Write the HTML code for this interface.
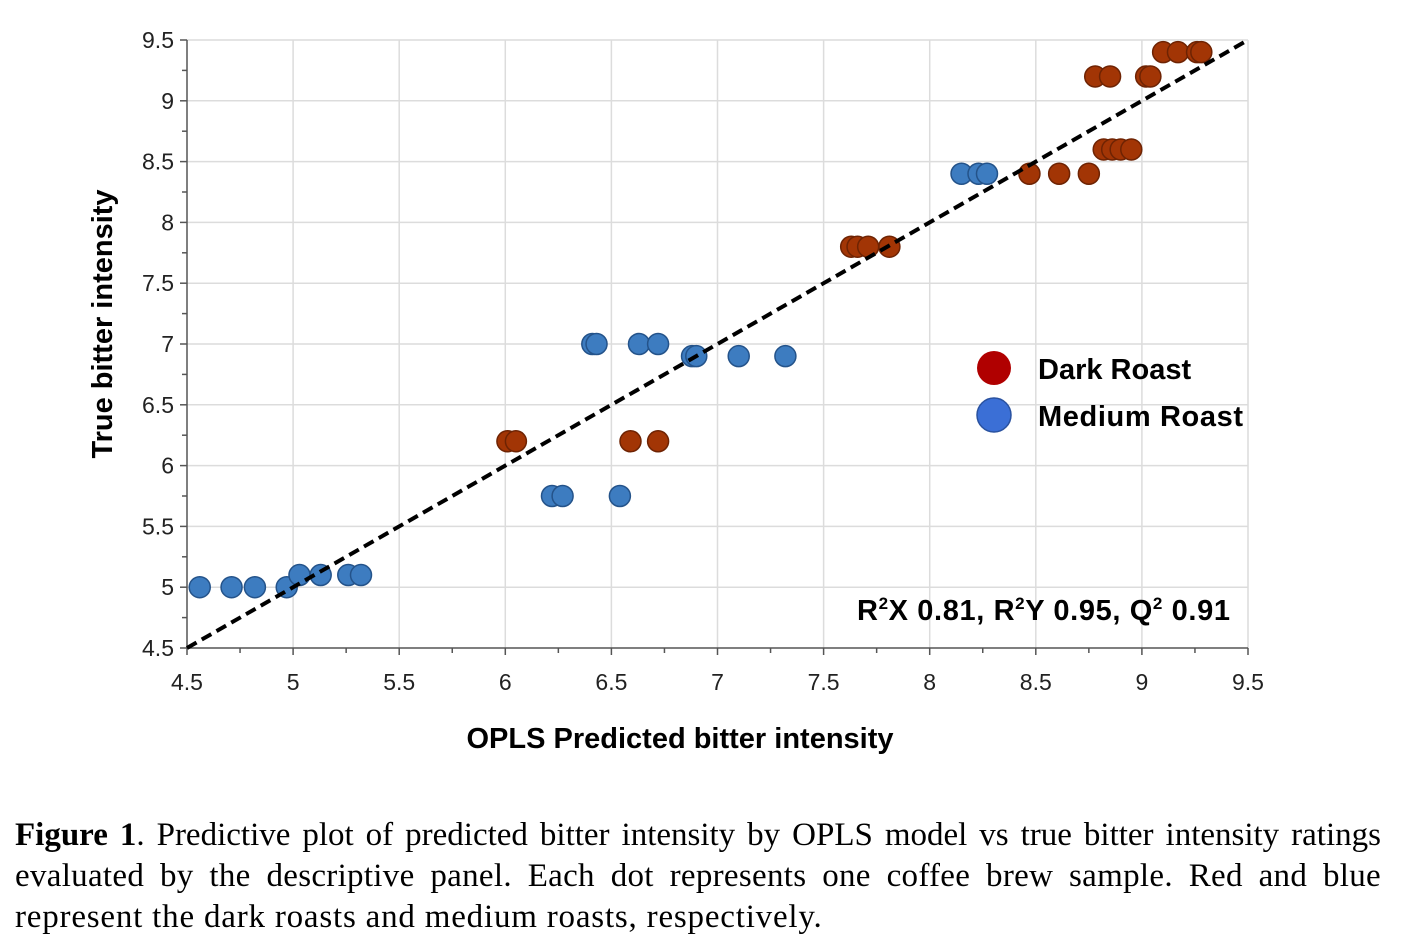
<!DOCTYPE html>
<html><head><meta charset="utf-8"><style>
body{margin:0;background:#fff;width:1401px;height:952px;overflow:hidden}
svg{position:absolute;left:0;top:0}
.cap{position:absolute;left:15px;top:815px;width:1366px;font-family:"Liberation Serif",serif;font-size:33px;letter-spacing:0.8px;line-height:41px;color:#000}
.cap .ln{display:block;text-align:justify;text-align-last:justify;white-space:nowrap}
.cap .last{text-align-last:left}
</style></head><body>
<svg id="chart" width="1401" height="800" font-family="Liberation Sans, sans-serif"></svg>
<div class="cap"><span class="ln" style="letter-spacing:0"><b>Figure 1</b>. Predictive plot of predicted bitter intensity by OPLS model vs true bitter intensity ratings</span><span class="ln" style="letter-spacing:0.3px">evaluated by the descriptive panel. Each dot represents one coffee brew sample. Red and blue</span><span class="ln last">represent the dark roasts and medium roasts, respectively.</span></div>
<script>
const xTicks=[4.5,5,5.5,6,6.5,7,7.5,8,8.5,9,9.5];
const yTicks=[4.5,5,5.5,6,6.5,7,7.5,8,8.5,9,9.5];
const mediumX=[4.56,4.71,4.82,4.97,5.03,5.13,5.26,5.32,6.22,6.27,6.54,6.41,6.43,6.63,6.72,6.88,6.90,7.10,7.32,8.15,8.23,8.27];
const mediumY=[5.0,5.0,5.0,5.0,5.1,5.1,5.1,5.1,5.75,5.75,5.75,7.0,7.0,7.0,7.0,6.9,6.9,6.9,6.9,8.4,8.4,8.4];
const darkX=[6.01,6.05,6.59,6.72,7.63,7.66,7.71,7.81,8.47,8.61,8.75,8.82,8.86,8.90,8.95,8.78,8.85,9.02,9.04,9.10,9.17,9.26,9.28];
const darkY=[6.2,6.2,6.2,6.2,7.8,7.8,7.8,7.8,8.4,8.4,8.4,8.6,8.6,8.6,8.6,9.2,9.2,9.2,9.2,9.4,9.4,9.4,9.4];
const fitLine=[4.5,9.5];
const NS='http://www.w3.org/2000/svg';
const svg=document.getElementById('chart');
const X0=187,X1=1248,Y0=648,Y1=40;
const sx=v=>X0+(v-4.5)/5*(X1-X0);
const sy=v=>Y0-(v-4.5)/5*(Y0-Y1);
function mk(tag,attrs,parent){const e=document.createElementNS(NS,tag);for(const k in attrs)e.setAttribute(k,attrs[k]);(parent||svg).appendChild(e);return e;}
const grid=mk('g',{});


xTicks.forEach(t=>{if(t>4.5)mk('line',{x1:sx(t),x2:sx(t),y1:Y1,y2:Y0,stroke:'#dcdcdc','stroke-width':1.5},grid);});
yTicks.forEach(t=>{if(t>4.5)mk('line',{x1:X0,x2:X1,y1:sy(t),y2:sy(t),stroke:'#dcdcdc','stroke-width':1.5},grid);});
const ax=mk('g',{stroke:'#555','stroke-width':1.5});


mk('line',{x1:X0,x2:X0,y1:Y1,y2:Y0},ax);
mk('line',{x1:X0,x2:X1,y1:Y0,y2:Y0},ax);
for(let v=4.5;v<=9.5001;v+=0.25){const major=Math.abs(v*2-Math.round(v*2))<1e-6;const L=major?7:5;
 mk('line',{x1:X0-L,x2:X0,y1:sy(v),y2:sy(v)},ax);
 mk('line',{x1:sx(v),x2:sx(v),y1:Y0,y2:Y0+L},ax);}
xTicks.forEach(t=>{const e=mk('text',{x:sx(t),y:690,'text-anchor':'middle','font-size':23,fill:'#222'});e.textContent=String(t);
 
 });
yTicks.forEach(t=>{const e=mk('text',{x:174,y:sy(t)+8,'text-anchor':'end','font-size':23,fill:'#222'});e.textContent=String(t);
 
 });
const med=mk('g',{});


mediumX.forEach((x,i)=>{const c=mk('circle',{cx:sx(x),cy:sy(mediumY[i]),r:10.5,fill:'#3d7cc0',stroke:'#24538a','stroke-width':1.5},med);
 
 });
const dk=mk('g',{});


darkX.forEach((x,i)=>{const c=mk('circle',{cx:sx(x),cy:sy(darkY[i]),r:10.5,fill:'#a23505',stroke:'#6e2303','stroke-width':1.5},dk);
 
 });
const fl=mk('line',{x1:sx(fitLine[0]),y1:sy(fitLine[0]),x2:sx(fitLine[1]),y2:sy(fitLine[1]),stroke:'#000','stroke-width':4,'stroke-dasharray':'11 6'});


</script>
<svg width="1401" height="800" style="pointer-events:none" font-family="Liberation Sans, sans-serif">
<g>
<circle cx="994" cy="368" r="17" fill="#b00000"/>
<circle cx="994" cy="415" r="17" fill="#3b6fd6" stroke="#2a52a0" stroke-width="1.5"/>
<text x="1038" y="379" font-size="29" font-weight="bold" fill="#000">Dark Roast</text>
<text x="1038" y="426" font-size="29" font-weight="bold" fill="#000" textLength="205">Medium Roast</text>
</g>
<text x="857" y="620" font-size="29" font-weight="bold" fill="#000" textLength="373">R<tspan font-size="17" dy="-11">2</tspan><tspan dy="11">X 0.81, R</tspan><tspan font-size="17" dy="-11">2</tspan><tspan dy="11">Y 0.95, Q</tspan><tspan font-size="17" dy="-11">2</tspan><tspan dy="11"> 0.91</tspan></text>
<text x="680" y="748" font-size="29" font-weight="bold" text-anchor="middle" fill="#000">OPLS Predicted bitter intensity</text>
<text transform="translate(112,324) rotate(-90)" font-size="29" font-weight="bold" text-anchor="middle" fill="#000">True bitter intensity</text>
</svg>
</body></html>
